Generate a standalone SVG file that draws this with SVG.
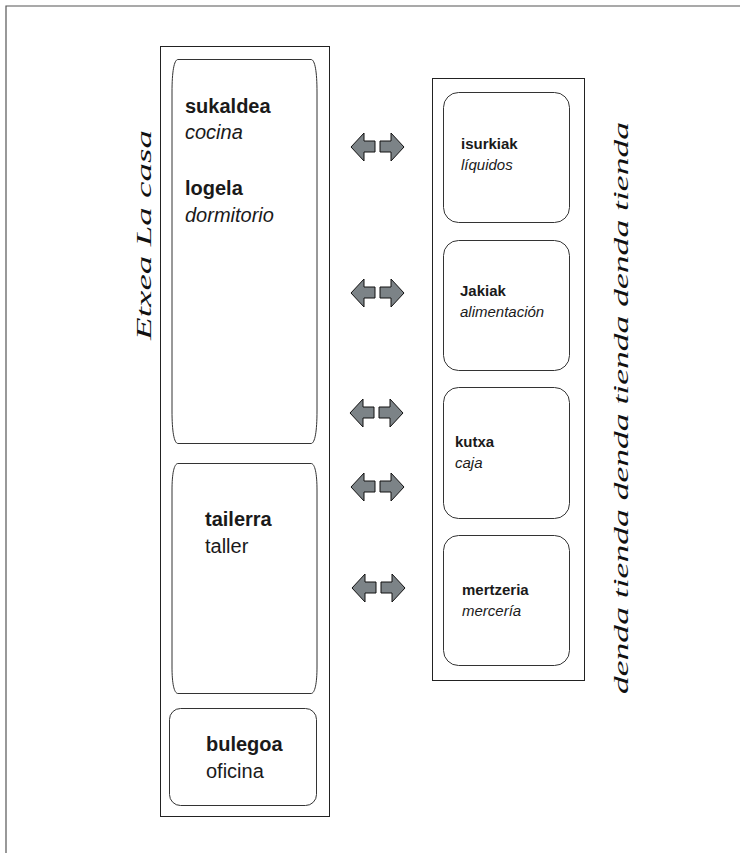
<svg xmlns="http://www.w3.org/2000/svg" width="740" height="853" viewBox="0 0 740 853">
<style>
.frame{fill:none;stroke:#555;stroke-width:1.2}
.box{fill:#fff;stroke:#222;stroke-width:1}
.room{fill:#fff;stroke:#333;stroke-width:1}
.arr{fill:#7c8387;stroke:#111;stroke-width:1;stroke-linejoin:miter}
.b{font-family:"Liberation Sans",Arial,sans-serif;font-weight:bold;fill:#1a1a1a}
.i{font-family:"Liberation Sans",Arial,sans-serif;font-style:italic;fill:#1a1a1a}
.r{font-family:"Liberation Sans",Arial,sans-serif;fill:#1a1a1a}
.s{font-family:"Liberation Serif","Times New Roman",serif;font-style:italic;font-size:21px;fill:#111}
</style>
<defs>
<g id="pair">
<path class="arr" d="M0,0 L13,-14 L13,-6 L24,-6 L24,5 L13,5 L13,14 Z"/>
<path class="arr" d="M53,0 L40,-14 L40,-6 L29,-6 L29,5 L40,5 L40,14 Z"/>
</g>
</defs>
<rect x="0" y="0" width="740" height="853" fill="#fff"/>
<path class="frame" d="M6,853 L6,6 L740,6"/>
<g id="casa">
<rect class="box" x="160.5" y="46.5" width="169" height="770"/>
</g>
<g id="sukaldea">
<path class="room" d="M178,59.5 L311,59.5 C315,59.5 317,72 317,92 L317,411 C317,431 315,443.5 311,443.5 L178,443.5 C174,443.5 172,431 172,411 L172,92 C172,72 174,59.5 178,59.5 Z"/>
<text class="b" x="185" y="113" font-size="20">sukaldea</text>
<text class="i" x="185" y="139" font-size="20">cocina</text>
<text class="b" x="185" y="195" font-size="20">logela</text>
<text class="i" x="185" y="222" font-size="20">dormitorio</text>
</g>
<g id="tailerra">
<path class="room" d="M178,463.5 L311,463.5 C315,463.5 317,474 317,490 L317,667 C317,683 315,693.5 311,693.5 L178,693.5 C174,693.5 172,683 172,667 L172,490 C172,474 174,463.5 178,463.5 Z"/>
<text class="b" x="205" y="526" font-size="20">tailerra</text>
<text class="r" x="205" y="553" font-size="20">taller</text>
</g>
<g id="bulegoa">
<rect class="room" x="169.5" y="708.5" width="147" height="97" rx="11"/>
<text class="b" x="206" y="751" font-size="20">bulegoa</text>
<text class="r" x="206" y="778" font-size="20">oficina</text>
</g>
<g id="etxea">
<text class="s" transform="translate(151,340) rotate(-90)" textLength="210" lengthAdjust="spacingAndGlyphs">Etxea  La casa</text>
</g>
<g id="dendak">
<rect class="box" x="432.5" y="78.5" width="152" height="602"/>
</g>
<g id="isurkiak">
<rect class="room" x="443.5" y="92.5" width="126" height="130" rx="15"/>
<text class="b" x="461" y="149" font-size="15">isurkiak</text>
<text class="i" x="461" y="170" font-size="15">líquidos</text>
</g>
<g id="jakiak">
<rect class="room" x="443.5" y="240.5" width="126" height="130" rx="15"/>
<text class="b" x="460" y="296" font-size="15">Jakiak</text>
<text class="i" x="460" y="317" font-size="15">alimentación</text>
</g>
<g id="kutxa">
<rect class="room" x="443.5" y="387.5" width="126" height="131" rx="15"/>
<text class="b" x="455" y="447" font-size="15">kutxa</text>
<text class="i" x="455" y="468" font-size="15">caja</text>
</g>
<g id="mertzeria">
<rect class="room" x="443.5" y="535.5" width="126" height="130" rx="15"/>
<text class="b" x="462" y="595" font-size="15">mertzeria</text>
<text class="i" x="462" y="616" font-size="15">mercería</text>
</g>
<g id="denda">
<text class="s" transform="translate(628,694) rotate(-90)" textLength="572" lengthAdjust="spacingAndGlyphs">denda tienda  denda  tienda  denda  tienda</text>
</g>
<g id="connectors">
<use href="#pair" x="351" y="147"/>
<use href="#pair" x="351" y="293"/>
<use href="#pair" x="350" y="413"/>
<use href="#pair" x="351" y="487"/>
<use href="#pair" x="352" y="588"/>
</g>
</svg>
